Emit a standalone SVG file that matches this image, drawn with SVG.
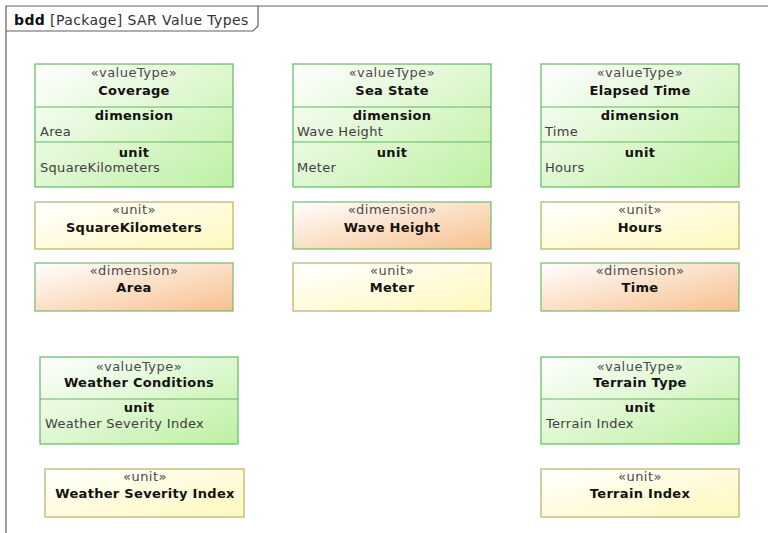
<svg xmlns="http://www.w3.org/2000/svg" width="768" height="533" viewBox="0 0 768 533">
<style>
text{font-family:"DejaVu Sans","Verdana",sans-serif;font-size:13px;letter-spacing:0.3px}
.st{fill:#4a4a4a;text-anchor:middle;letter-spacing:0.5px}
.nm{fill:#111;font-weight:bold;text-anchor:middle}
.val{fill:#404040}
.vt{fill:url(#gVT);stroke:#62b862;stroke-width:1.2}
.un{fill:url(#gUN);stroke:#b8b068;stroke-width:1.2}
.dm{fill:url(#gDM);stroke:#72bc6c;stroke-width:1.2}
.div{stroke:#62b862;stroke-width:1.2}
.frame{fill:none;stroke:#606060;stroke-width:1.2}
</style>
<defs>
<linearGradient id="gVT" x1="0" y1="0" x2="1" y2="1"><stop offset="0" stop-color="#ffffff"/><stop offset="1" stop-color="#bdf0a2"/></linearGradient>
<linearGradient id="gUN" x1="0" y1="0" x2="1" y2="1"><stop offset="0" stop-color="#ffffff"/><stop offset="1" stop-color="#fff8bc"/></linearGradient>
<linearGradient id="gDM" x1="0" y1="0" x2="1" y2="1"><stop offset="0" stop-color="#ffffff"/><stop offset="1" stop-color="#f7c08e"/></linearGradient>
</defs>
<rect width="768" height="533" fill="#ffffff"/>
<g id="frame">
<path class="frame" d="M6,533 V6 H768"/>
<path class="frame" d="M6,31 H253 L258,26 V6"/>
<text x="14" y="25" style="font-size:14px;letter-spacing:0.4px"><tspan font-weight="bold" fill="#111">bdd</tspan><tspan fill="#333"> [Package] SAR Value Types</tspan></text>
</g>
<g id="connectors"></g>
<g id="coverage">
<rect class="vt" x="35" y="64" width="198" height="123"/>
<line class="div" x1="35" y1="107" x2="233" y2="107"/>
<line class="div" x1="35" y1="142" x2="233" y2="142"/>
<text class="st" x="134" y="77">«valueType»</text>
<text class="nm" x="134" y="95">Coverage</text>
<text class="nm" x="134" y="120">dimension</text>
<text class="val" x="40" y="136">Area</text>
<text class="nm" x="134" y="157">unit</text>
<text class="val" x="40" y="172">SquareKilometers</text>
</g>
<g id="seastate">
<rect class="vt" x="293" y="64" width="198" height="123"/>
<line class="div" x1="293" y1="107" x2="491" y2="107"/>
<line class="div" x1="293" y1="142" x2="491" y2="142"/>
<text class="st" x="392" y="77">«valueType»</text>
<text class="nm" x="392" y="95">Sea State</text>
<text class="nm" x="392" y="120">dimension</text>
<text class="val" x="297" y="136">Wave Height</text>
<text class="nm" x="392" y="157">unit</text>
<text class="val" x="297" y="172">Meter</text>
</g>
<g id="elapsedtime">
<rect class="vt" x="541" y="64" width="198" height="123"/>
<line class="div" x1="541" y1="107" x2="739" y2="107"/>
<line class="div" x1="541" y1="142" x2="739" y2="142"/>
<text class="st" x="640" y="77">«valueType»</text>
<text class="nm" x="640" y="95">Elapsed Time</text>
<text class="nm" x="640" y="120">dimension</text>
<text class="val" x="545" y="136">Time</text>
<text class="nm" x="640" y="157">unit</text>
<text class="val" x="545" y="172">Hours</text>
</g>
<g id="squarekilometers">
<rect class="un" x="35" y="202" width="198" height="47"/>
<text class="st" x="134" y="214">«unit»</text>
<text class="nm" x="134" y="232">SquareKilometers</text>
</g>
<g id="waveheight">
<rect class="dm" x="293" y="202" width="198" height="47"/>
<text class="st" x="392" y="214">«dimension»</text>
<text class="nm" x="392" y="232">Wave Height</text>
</g>
<g id="hours">
<rect class="un" x="541" y="202" width="198" height="47"/>
<text class="st" x="640" y="214">«unit»</text>
<text class="nm" x="640" y="232">Hours</text>
</g>
<g id="area">
<rect class="dm" x="35" y="263" width="198" height="48"/>
<text class="st" x="134" y="275">«dimension»</text>
<text class="nm" x="134" y="292">Area</text>
</g>
<g id="meter">
<rect class="un" x="293" y="263" width="198" height="48"/>
<text class="st" x="392" y="275">«unit»</text>
<text class="nm" x="392" y="292">Meter</text>
</g>
<g id="time">
<rect class="dm" x="541" y="263" width="198" height="48"/>
<text class="st" x="640" y="275">«dimension»</text>
<text class="nm" x="640" y="292">Time</text>
</g>
<g id="weatherconditions">
<rect class="vt" x="40" y="357" width="198" height="87"/>
<line class="div" x1="40" y1="399" x2="238" y2="399"/>
<text class="st" x="139" y="371">«valueType»</text>
<text class="nm" x="139" y="387">Weather Conditions</text>
<text class="nm" x="139" y="412">unit</text>
<text class="val" x="45" y="428">Weather Severity Index</text>
</g>
<g id="terraintype">
<rect class="vt" x="541" y="357" width="198" height="87"/>
<line class="div" x1="541" y1="399" x2="739" y2="399"/>
<text class="st" x="640" y="371">«valueType»</text>
<text class="nm" x="640" y="387">Terrain Type</text>
<text class="nm" x="640" y="412">unit</text>
<text class="val" x="546" y="428">Terrain Index</text>
</g>
<g id="weatherseverityindex">
<rect class="un" x="45" y="469" width="199" height="48"/>
<text class="st" x="145" y="481">«unit»</text>
<text class="nm" x="145" y="498">Weather Severity Index</text>
</g>
<g id="terrainindex">
<rect class="un" x="541" y="469" width="198" height="48"/>
<text class="st" x="640" y="481">«unit»</text>
<text class="nm" x="640" y="498">Terrain Index</text>
</g>
</svg>
